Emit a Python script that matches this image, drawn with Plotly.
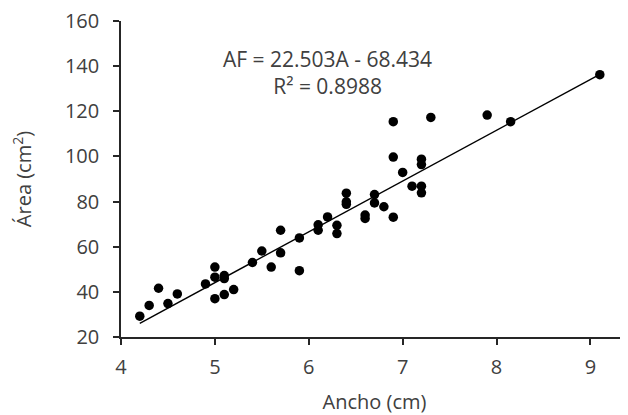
import plotly.graph_objects as go

ancho = [4.2, 4.3, 4.4, 4.5, 4.6, 4.9, 5.0, 5.0, 5.0, 5.1, 5.1, 5.1, 5.2, 5.4, 5.5,
         5.6, 5.7, 5.7, 5.9, 5.9, 6.1, 6.1, 6.2, 6.3, 6.3, 6.4, 6.4, 6.4, 6.6, 6.6,
         6.7, 6.7, 6.8, 6.9, 6.9, 6.9, 7.0, 7.1, 7.2, 7.2, 7.2, 7.2, 7.3, 7.9, 8.15, 9.1]
area = [29.2, 34.0, 41.6, 34.8, 39.1, 43.5, 51.0, 46.5, 37.0, 47.2, 45.9, 38.8, 41.0, 53.0, 58.1,
        51.0, 67.3, 57.3, 63.9, 49.4, 69.7, 67.3, 73.2, 69.5, 65.8, 83.7, 79.9, 78.8, 74.0, 72.5,
        83.1, 79.4, 77.7, 115.4, 99.7, 73.1, 92.9, 86.8, 98.8, 96.4, 86.8, 83.9, 117.3, 118.3, 115.4, 136.2]

slope = 22.503
intercept = -68.434
r2 = 0.8988

x_ticks = [4, 5, 6, 7, 8, 9]
y_ticks = [20, 40, 60, 80, 100, 120, 140, 160]

FONT = "Open Sans"
TXT = "#404040"

x_line = [min(ancho), max(ancho)]
y_line = [slope * v + intercept for v in x_line]

fig = go.Figure()
fig.add_trace(go.Scatter(x=x_line, y=y_line, mode="lines",
                         line=dict(color="black", width=1.4), hoverinfo="skip"))
fig.add_trace(go.Scatter(x=ancho, y=area, mode="markers",
                         marker=dict(color="black", size=9.5, line=dict(width=0))))

fig.add_annotation(x=6.2, y=137.2, xref="x", yref="y",
                   text=f"AF = {slope:.3f}A - {abs(intercept):.3f}<br>R² = {r2:.4f}",
                   showarrow=False, align="center",
                   font=dict(family=FONT, size=21, color=TXT))

axis_common = dict(showline=True, linecolor="#262626", linewidth=1.5,
                   ticks="outside", ticklen=6, tickcolor="#262626", tickwidth=1.5,
                   showgrid=False, zeroline=False, automargin=False,
                   ticklabeloverflow="allow",
                   tickfont=dict(family=FONT, size=20, color=TXT))

fig.update_layout(
    width=620, height=407,
    margin=dict(l=113, r=0, t=13, b=78),
    plot_bgcolor="white", paper_bgcolor="white",
    showlegend=False,
    xaxis=dict(range=[4, 9.4], tickvals=x_ticks, ticklabelstandoff=5,
               title=dict(text="Ancho (cm)", font=dict(family=FONT, size=20, color=TXT), standoff=19),
               **axis_common),
    yaxis=dict(range=[20, 160], tickvals=y_ticks, ticklabelstandoff=10,
               title=dict(text="Área (cm<sup>2</sup>)", font=dict(family=FONT, size=20, color=TXT), standoff=32),
               **axis_common),
)

fig.write_html("out.html")
